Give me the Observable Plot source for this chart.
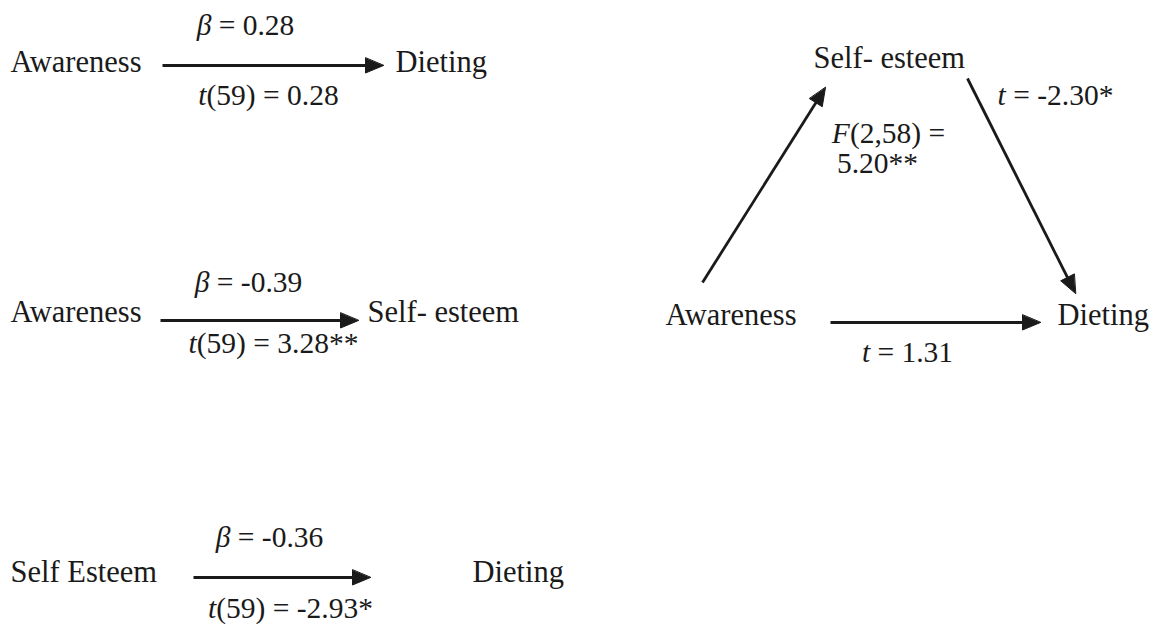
<!DOCTYPE html>
<html>
<head>
<meta charset="utf-8">
<script src="https://cdn.jsdelivr.net/npm/d3@7"></script>
<script src="https://cdn.jsdelivr.net/npm/@observablehq/plot@0.6"></script>
<style>
  html, body { margin: 0; padding: 0; background: #fff; }
  #chart svg { display: block; }
  #chart svg text { font-family: "Liberation Serif", "DejaVu Serif", serif !important; }
</style>
</head>
<body>
<div id="chart"></div>
<script>
// Node labels (left edge x, vertical centre y)
const nodeLabels = ["Awareness", "Dieting", "Awareness", "Self- esteem", "Self Esteem", "Dieting", "Self- esteem", "Awareness", "Dieting"];
const nodeX      = [10, 395, 10, 367, 10, 472, 813, 665, 1057];
const nodeY      = [62, 62, 312, 312, 572, 572, 58, 315, 315];

// Path statistic labels (centre x, centre y)
const statLabels = ["β = 0.28", "t(59) = 0.28", "β = -0.39", "t(59) = 3.28**", "β = -0.36", "t(59) = -2.93*", "t = -2.30*", "F(2,58) =", "5.20**", "t = 1.31"];
const statX      = [245, 268, 248, 273, 269, 290, 1055, 888, 877, 907];
const statY      = [25, 95, 282, 343, 537, 608, 95, 133, 163, 352];

// Arrows (start -> tip)
const arrowX1 = [162, 160, 193, 702, 967, 830];
const arrowY1 = [65, 320, 577, 282, 78, 322];
const arrowX2 = [383, 358, 370, 825, 1075, 1040];
const arrowY2 = [65, 320, 577, 87, 293, 322];

const ink = "#1a1a1a";
const font = "Liberation Serif";

const nodes = nodeLabels.map((label, i) => ({label, x: nodeX[i], y: nodeY[i]}));
const stats = statLabels.map((label, i) => ({label, x: statX[i], y: statY[i]}));
const arrows = arrowX1.map((x1, i) => {
  const dx = arrowX2[i] - x1, dy = arrowY2[i] - arrowY1[i];
  const len = Math.hypot(dx, dy);
  return {i, x1, y1: arrowY1[i], x2: arrowX2[i], y2: arrowY2[i], ux: dx / len, uy: dy / len};
});
const headLen = 18, headHalf = 7.5;
const shafts = arrows.map(a => ({...a, x2: a.x2 - a.ux * (headLen - 2), y2: a.y2 - a.uy * (headLen - 2)}));
const heads = arrows.flatMap(a => {
  const bx = a.x2 - a.ux * headLen, by = a.y2 - a.uy * headLen;
  const nx = -a.uy, ny = a.ux;
  return [
    {i: a.i, x: a.x2, y: a.y2},
    {i: a.i, x: bx + nx * headHalf, y: by + ny * headHalf},
    {i: a.i, x: bx - nx * headHalf, y: by - ny * headHalf}
  ];
});

const chart = Plot.plot({
  width: 1171,
  height: 626,
  margin: 0,
  style: {background: "#fff", color: ink},
  x: {domain: [0, 1171], range: [0, 1171], axis: null},
  y: {domain: [0, 626], range: [0, 626], axis: null},
  marks: [
    Plot.link(shafts, {x1: "x1", y1: "y1", x2: "x2", y2: "y2", stroke: ink, strokeWidth: 2.8}),
    Plot.line(heads, {x: "x", y: "y", z: "i", fill: ink, stroke: ink, strokeWidth: 1, curve: "linear-closed"}),
    Plot.text(nodes, {x: "x", y: "y", text: "label", textAnchor: "start", fontSize: 30.5, fontFamily: font, fill: ink}),
    Plot.text(stats, {x: "x", y: "y", text: "label", textAnchor: "middle", fontSize: 29.5, fontFamily: font, fill: ink})
  ]
});

// Italicise the statistic symbols (β, t, F)
d3.select(chart).selectAll("text").each(function() {
  const el = d3.select(this);
  if (el.selectAll("tspan").size() > 0) return;
  const s = this.textContent;
  const m = s.match(/^([βtF])([ (].*)$/);
  if (!m) return;
  el.text(null);
  el.append("tspan").attr("font-style", "italic").text(m[1]);
  el.append("tspan").text(m[2]);
});

document.getElementById("chart").appendChild(chart);
</script>
</body>
</html>
